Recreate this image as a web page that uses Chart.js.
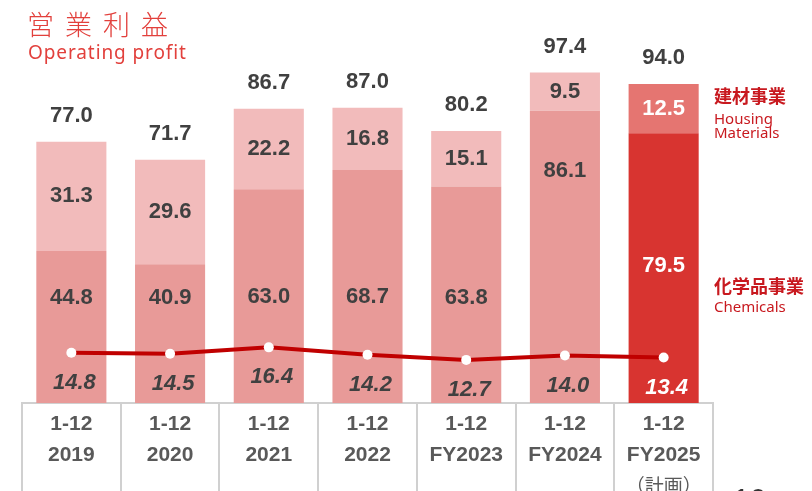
<!DOCTYPE html>
<html>
<head>
<meta charset="utf-8">
<script src="https://cdn.jsdelivr.net/npm/chart.js@4.4.1/dist/chart.umd.min.js"></script>
<style>
body { margin: 0; background: #fff; overflow: hidden; }
#wrap { position: relative; width: 812px; height: 491px; overflow: hidden; }
#chart { position: absolute; left: 0; top: 0; }
.t { position: absolute; white-space: nowrap; line-height: 1; }
.jp { font-family: "Noto Sans CJK JP", sans-serif; }
.en { font-family: "Noto Sans", sans-serif; }
.seg { color: #c8191f; }
</style>
</head>
<body>
<div id="wrap">
  <canvas id="chart" width="812" height="491"></canvas>
  <div class="t jp" style="left:27px;top:10px;font-size:27px;font-weight:300;letter-spacing:11px;color:#e2403c">営業利益</div>
  <div class="t en" style="left:28px;top:43px;font-size:19px;letter-spacing:0.9px;color:#e2403c">Operating profit</div>

  <div class="t jp seg" style="left:714px;top:86px;font-size:18px;font-weight:700">建材事業</div>
  <div class="t en seg" style="left:714px;top:111px;font-size:15px">Housing</div>
  <div class="t en seg" style="left:714px;top:125px;font-size:15px">Materials</div>
  <div class="t jp seg" style="left:714px;top:276px;font-size:18px;font-weight:700">化学品事業</div>
  <div class="t en seg" style="left:714px;top:299px;font-size:15px">Chemicals</div>

  <div class="t" style="left:733px;top:482px;font:30px 'Liberation Sans',Arial,sans-serif;color:#333">10</div>
</div>

<script>
// values in 100 million yen, margin in %
const categories = [['1-12', '2019'], ['1-12', '2020'], ['1-12', '2021'], ['1-12', '2022'],
                    ['1-12', 'FY2023'], ['1-12', 'FY2024'], ['1-12', 'FY2025', '（計画）']];
const chemicals = [44.8, 40.9, 63.0, 68.7, 63.8, 86.1, 79.5];
const housing = [31.3, 29.6, 22.2, 16.8, 15.1, 9.5, 12.5];
const totals = [77.0, 71.7, 86.7, 87.0, 80.2, 97.4, 94.0];
const margin = [14.8, 14.5, 16.4, 14.2, 12.7, 14.0, 13.4];

const last = categories.length - 1;
const chemColors = chemicals.map((v, i) => i === last ? '#d83430' : '#e89a98');
const housColors = housing.map((v, i) => i === last ? '#e57571' : '#f2bbbb');

// where the chemicals numbers sit (in axis units), as laid out on the slide
const chemLabelAt = [31, 31, 31.3, 31.3, 31, 68.4, 40.4];

const numFont = 'bold 22px "Liberation Sans", Arial, sans-serif';

const valueLabels = {
    id: 'valueLabels',
    afterDatasetsDraw(chart) {
        const ctx = chart.ctx;
        const yScale = chart.scales.y;
        const chemBars = chart.getDatasetMeta(0).data;
        const housBars = chart.getDatasetMeta(1).data;
        const points = chart.getDatasetMeta(2).data;
        ctx.save();
        ctx.textAlign = 'center';
        ctx.textBaseline = 'middle';
        chemBars.forEach((bar, i) => {
            const col = i === last ? '#ffffff' : '#404040';
            const top = housBars[i];
            ctx.font = numFont;
            ctx.fillStyle = col;
            ctx.fillText(chemicals[i].toFixed(1), bar.x, yScale.getPixelForValue(chemLabelAt[i]));
            ctx.fillText(housing[i].toFixed(1), top.x, (top.y + top.base) / 2);
            ctx.fillStyle = '#404040';
            ctx.fillText(totals[i].toFixed(1), top.x, top.y - 26);
            ctx.font = 'italic ' + numFont;
            ctx.fillStyle = col;
            ctx.fillText(margin[i].toFixed(1), points[i].x + 3, points[i].y + 30);
        });
        ctx.restore();
    }
};

const tableLabels = {
    id: 'tableLabels',
    afterDraw(chart) {
        const ctx = chart.ctx;
        const xScale = chart.scales.x;
        const bottom = chart.chartArea.bottom;
        ctx.save();
        ctx.textAlign = 'center';
        ctx.textBaseline = 'middle';
        ctx.fillStyle = '#595959';
        categories.forEach((lines, i) => {
            const x = xScale.getPixelForValue(i);
            ctx.font = 'bold 21px "Liberation Sans", Arial, sans-serif';
            ctx.fillText(lines[0], x, bottom + 21);
            ctx.fillText(lines[1], x, bottom + 52);
            if (lines[2]) {
                ctx.font = '19px "Noto Sans CJK JP", sans-serif';
                ctx.fillText(lines[2], x, bottom + 83);
            }
        });
        ctx.restore();
    }
};

new Chart(document.getElementById('chart'), {
    data: {
        labels: categories,
        datasets: [
            {
                type: 'bar',
                label: 'Chemicals',
                data: chemicals,
                backgroundColor: chemColors,
                grouped: false,
                order: 1
            },
            {
                type: 'bar',
                label: 'Housing Materials',
                // housing segment sits on top of chemicals and reaches the reported total
                data: chemicals.map((c, i) => [c, totals[i]]),
                backgroundColor: housColors,
                grouped: false,
                order: 1
            },
            {
                type: 'line',
                label: 'Margin',
                data: margin,
                borderColor: '#c00000',
                borderWidth: 4,
                tension: 0,
                pointRadius: 5,
                pointBackgroundColor: '#ffffff',
                pointBorderColor: '#ffffff',
                pointBorderWidth: 0,
                order: 0
            }
        ]
    },
    options: {
        responsive: false,
        animation: false,
        layout: { padding: { left: 22, right: 99, top: 0, bottom: 0 } },
        datasets: { bar: { categoryPercentage: 1, barPercentage: 0.71 } },
        plugins: { legend: { display: false }, tooltip: { enabled: false } },
        scales: {
            x: {
                offset: true,
                ticks: { display: false },
                grid: {
                    offset: true,
                    drawOnChartArea: false,
                    drawTicks: true,
                    tickLength: 88,
                    color: '#d0d0d0',
                    lineWidth: 2
                },
                border: { display: true, color: '#d0d0d0', width: 2 }
            },
            y: {
                display: false,
                min: 0,
                max: 117.3
            }
        }
    },
    plugins: [valueLabels, tableLabels]
});
</script>
</body>
</html>
